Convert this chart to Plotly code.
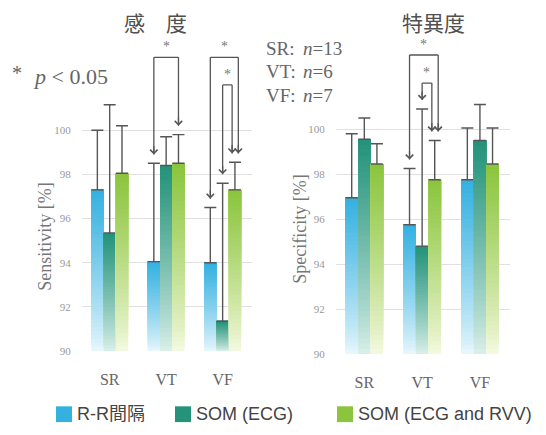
import plotly.graph_objects as go

# ---------------------------------------------------------------- data
categories = ["SR", "VT", "VF"]
methods = ["R-R間隔", "SOM (ECG)", "SOM (ECG and RVV)"]

# Sensitivity [%]: mean and upper error per detection method
sens_rr = [97.3, 94.05, 94.0]
sens_ecg = [95.35, 98.4, 91.35]
sens_ecg_rvv = [98.05, 98.5, 97.3]
sens_err_rr = [2.7, 4.45, 2.5]
sens_err_ecg = [5.8, 1.3, 6.25]
sens_err_ecg_rvv = [2.15, 1.3, 1.25]

# Specificity [%]: mean and upper error per detection method
spec_rr = [96.95, 95.75, 97.75]
spec_ecg = [99.55, 94.8, 99.5]
spec_ecg_rvv = [98.45, 97.75, 98.45]
spec_err_rr = [2.85, 2.5, 2.3]
spec_err_ecg = [0.95, 6.1, 1.6]
spec_err_ecg_rvv = [0.9, 1.75, 1.6]

# number of episodes per rhythm
rhythms = ["SR", "VT", "VF"]
n_counts = [13, 6, 7]

# significant differences (p < 0.05): (rhythm, method index a, method index b)
sens_sig = [("VT", 0, 2), ("VF", 0, 2), ("VF", 1, 2)]
spec_sig = [("VT", 0, 2), ("VT", 1, 2)]

y_ticks = [90, 92, 94, 96, 98, 100]

# ---------------------------------------------------------------- style
W, H = 546, 435
top_colors = ["#35b1e0", "#24937a", "#8bc53d"]
bottom_colors = ["#e6f6fc", "#d8efe8", "#f3f9de"]
ink = "#555555"
serif = "Liberation Serif, Times New Roman, serif"
sans = "Liberation Sans, Arial, Noto Sans CJK JP, sans-serif"
cjk = "Noto Sans CJK JP, sans-serif"

BAR_W = 0.218
OFFSETS = [-1.5 * BAR_W, -0.5 * BAR_W, 0.5 * BAR_W]
N_SEG = 40
Y0 = 90


def hex_rgb(h):
    h = h.lstrip("#")
    return [int(h[i:i + 2], 16) for i in (0, 2, 4)]


def mix(c0, c1, t):
    a, b = hex_rgb(c0), hex_rgb(c1)
    return "rgb({},{},{})".format(*[round(a[i] + (b[i] - a[i]) * t) for i in range(3)])


def px_x(p):
    return p / W


def px_y(p):
    return 1 - p / H


def label(x, y, text, size, color, family, xanchor="center", yanchor="middle", **kw):
    d = dict(xref="paper", yref="paper", x=px_x(x), y=px_y(y), text=text,
             xanchor=xanchor, yanchor=yanchor, showarrow=False,
             font=dict(family=family, size=size, color=color))
    d.update(kw)
    return d


fig = go.Figure()

panels = [
    dict(xa="x", ya="y", vals=[sens_rr, sens_ecg, sens_ecg_rvv],
         errs=[sens_err_rr, sens_err_ecg, sens_err_ecg_rvv], sig=sens_sig),
    dict(xa="x2", ya="y2", vals=[spec_rr, spec_ecg, spec_ecg_rvv],
         errs=[spec_err_rr, spec_err_ecg, spec_err_ecg_rvv], sig=spec_sig),
]

xs = list(range(len(categories)))

for panel in panels:
    for m, (vals, errs) in enumerate(zip(panel["vals"], panel["errs"])):
        # vertical gradient: overlapping layers, each running from its start up to the
        # bar top, getting darker upwards (later layers cover the earlier ones)
        for k in range(N_SEG):
            t = (k / (N_SEG - 1)) ** 0.85
            bases = [Y0 + (v - Y0) * k / N_SEG for v in vals]
            fig.add_trace(go.Bar(
                x=xs, base=bases, y=[v - b for v, b in zip(vals, bases)],
                width=BAR_W, offset=OFFSETS[m],
                marker=dict(color=mix(bottom_colors[m], top_colors[m], t), line=dict(width=0)),
                xaxis=panel["xa"], yaxis=panel["ya"],
                showlegend=False, hoverinfo="skip",
            ))
        # upper error bars
        fig.add_trace(go.Bar(
            x=xs, y=vals, width=BAR_W, offset=OFFSETS[m],
            marker=dict(color="rgba(0,0,0,0)", line=dict(width=0)),
            error_y=dict(type="data", symmetric=False, array=errs,
                         arrayminus=[0] * len(errs), color=ink, thickness=1.4, width=6),
            xaxis=panel["xa"], yaxis=panel["ya"], cliponaxis=False,
            showlegend=False, name=methods[m],
        ))

# ---------------------------------------------------------------- significance brackets
shapes = []
annotations = []
LEVEL_OUTER, LEVEL_INNER, GAP = 103.3, 102.05, 0.4

for panel in panels:
    xa, ya = panel["xa"], panel["ya"]
    ends = {}
    for (rh, a, b) in panel["sig"]:
        ends.setdefault((rh, b), []).append(b - a)
    for (rh, a, b) in panel["sig"]:
        ci = categories.index(rh)
        level = LEVEL_OUTER if b - a >= 2 else LEVEL_INNER
        xl = ci + OFFSETS[a] + BAR_W / 2
        xr = ci + OFFSETS[b] + BAR_W / 2
        if len(ends[(rh, b)]) > 1:
            xr += 0.06 if b - a >= 2 else -0.05
        shapes.append(dict(type="line", xref=xa, yref=ya, x0=xl, x1=xr, y0=level, y1=level,
                           line=dict(color=ink, width=1.3)))
        for m, xp in ((a, xl), (b, xr)):
            tip = panel["vals"][m][ci] + panel["errs"][m][ci] + GAP
            shapes.append(dict(type="line", xref=xa, yref=ya, x0=xp, x1=xp, y0=level, y1=tip,
                               line=dict(color=ink, width=1.3)))
            annotations.append(dict(xref=xa, yref=ya, x=xp, y=tip, ax=0, ay=-10, text="",
                                    showarrow=True, arrowhead=4, arrowsize=1.1,
                                    arrowwidth=1.3, arrowcolor=ink))
        annotations.append(dict(xref=xa, yref=ya, x=(xl + xr) / 2, y=level, text="*",
                                showarrow=False, yanchor="bottom", yshift=1,
                                font=dict(family=serif, size=14, color="#777")))

# ---------------------------------------------------------------- titles and texts
annotations += [
    label(155, 22, "感\u3000度", 21, "#505050", cjk),
    label(433, 22, "特異度", 21, "#505050", cjk),
    label(45, 240, "Sensitivity [%]", 18, "#777", serif, textangle=-90),
    label(300, 233, "Specificity [%]", 18, "#777", serif, textangle=-90),
    label(10, 74, "*", 20, "#666", serif, xanchor="left"),
    label(31, 78, "<i>p</i> < 0.05", 22, "#666", serif, xanchor="left"),
]
for i, (rh, n) in enumerate(zip(rhythms, n_counts)):
    yy = 49 + 24 * i
    annotations.append(label(264, yy, rh + ":", 19, "#666", serif, xanchor="left"))
    annotations.append(label(301, yy, "<i>n</i>=" + str(n), 19, "#666", serif, xanchor="left"))

# ---------------------------------------------------------------- legend row
legend_x = [56, 175, 337]
for m, name in enumerate(methods):
    x0 = legend_x[m]
    shapes.append(dict(type="rect", xref="paper", yref="paper",
                       x0=px_x(x0), x1=px_x(x0 + 16), y0=px_y(428), y1=px_y(412),
                       line=dict(width=0), fillcolor=top_colors[m]))
    annotations.append(label(x0 + 19, 420, name, 18, "#444", sans, xanchor="left"))

# ---------------------------------------------------------------- axes
xcommon = dict(range=[-0.49, 2.52], tickvals=xs, ticktext=categories, showgrid=False,
               zeroline=False, showline=False, ticks="outside", ticklen=14,
               tickcolor="rgba(0,0,0,0)", tickfont=dict(family=serif, size=16, color="#666"),
               fixedrange=True)
ycommon = dict(tickvals=y_ticks, ticktext=[str(v) for v in y_ticks], showgrid=True,
               gridcolor="#e0e0e0", gridwidth=1, zeroline=False, showline=False,
               ticks="outside", ticklen=8, tickcolor="rgba(0,0,0,0)",
               tickfont=dict(family=serif, size=11, color="#999"), fixedrange=True)

fig.update_layout(
    width=W, height=H,
    margin=dict(l=0, r=0, t=0, b=0),
    paper_bgcolor="white", plot_bgcolor="white",
    barmode="overlay", showlegend=False,
    xaxis=dict(xcommon, domain=[px_x(82), px_x(252)], anchor="y"),
    xaxis2=dict(xcommon, domain=[px_x(336), px_x(510)], anchor="y2"),
    yaxis=dict(ycommon, domain=[px_y(356), px_y(40)], range=[90, 90 + 316 / 22.4], anchor="x"),
    yaxis2=dict(ycommon, domain=[px_y(359), px_y(40)], range=[90, 90 + 319 / 22.8], anchor="x2"),
    shapes=shapes, annotations=annotations,
)

fig.write_html("out.html")
